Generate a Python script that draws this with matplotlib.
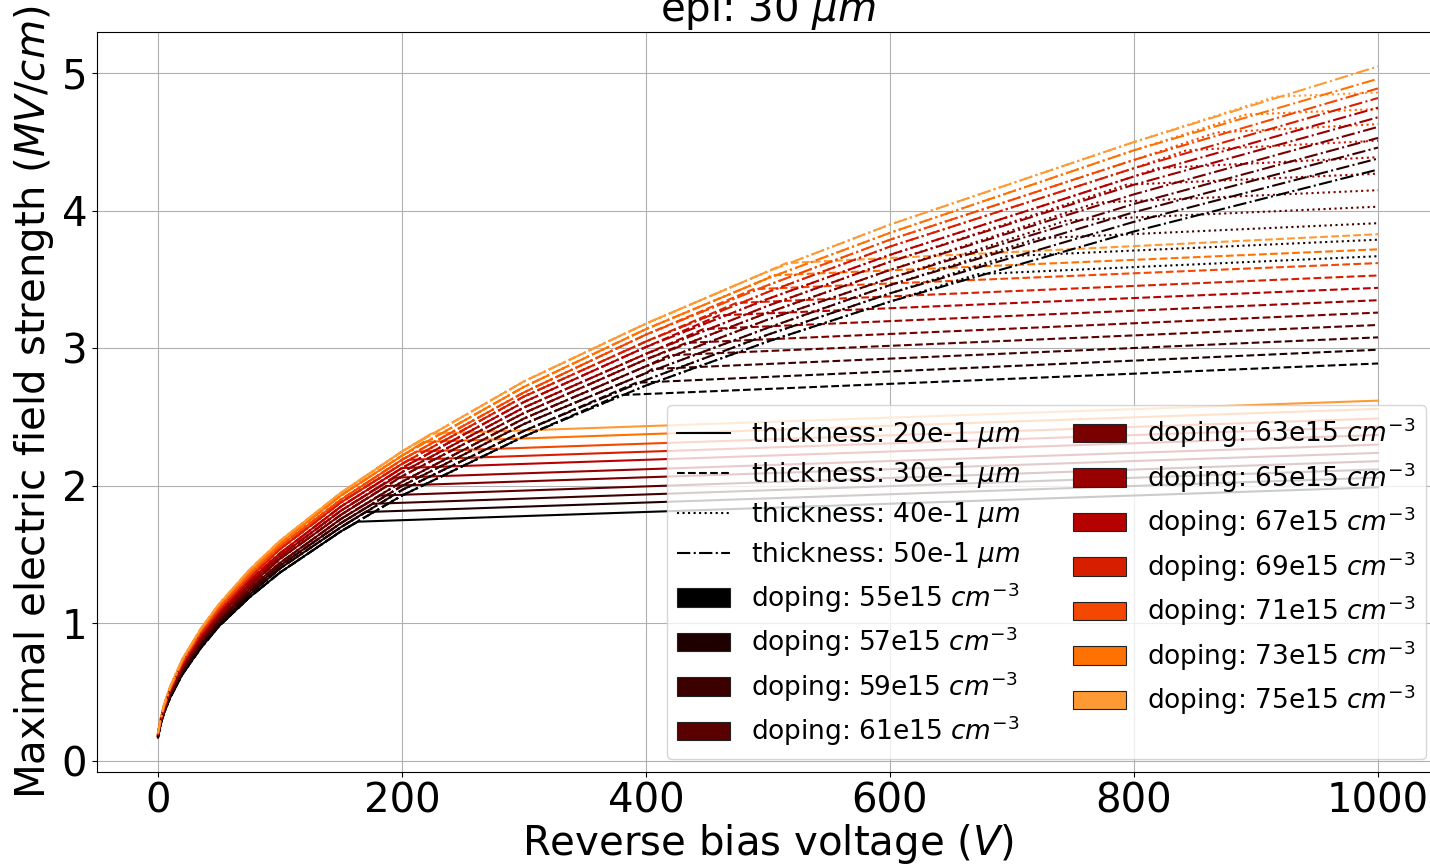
import numpy as np
import matplotlib
matplotlib.use("Agg")
import matplotlib.pyplot as plt
import matplotlib.patches as mpatches
from matplotlib.lines import Line2D

# doping in 1e15 cm^-3, layer thickness in 1e-1 um
doping = [55, 57, 59, 61, 63, 65, 67, 69, 71, 73, 75]
thickness = [20, 30, 40, 50]
styles = ['-', '--', ':', '-.']

# max field (MV/cm) before punch-through, one row per doping
v_grid = [0, 2, 5, 10, 20, 35, 50, 75, 100, 150, 200, 300, 400, 500, 600, 800, 1000]
e_rise = [
    [0.17, 0.26, 0.35, 0.46, 0.63, 0.82, 0.98, 1.19, 1.37, 1.67, 1.93, 2.36, 2.73, 3.05, 3.34, 3.85, 4.30],
    [0.18, 0.26, 0.36, 0.47, 0.64, 0.84, 0.99, 1.21, 1.40, 1.70, 1.97, 2.40, 2.77, 3.10, 3.40, 3.92, 4.38],
    [0.18, 0.27, 0.36, 0.48, 0.65, 0.85, 1.01, 1.23, 1.42, 1.73, 2.00, 2.45, 2.82, 3.15, 3.46, 3.99, 4.46],
    [0.18, 0.27, 0.37, 0.49, 0.67, 0.87, 1.03, 1.25, 1.44, 1.76, 2.03, 2.49, 2.87, 3.21, 3.51, 4.05, 4.53],
    [0.18, 0.28, 0.37, 0.50, 0.68, 0.88, 1.05, 1.27, 1.47, 1.79, 2.07, 2.53, 2.92, 3.26, 3.57, 4.12, 4.61],
    [0.19, 0.28, 0.38, 0.50, 0.69, 0.89, 1.06, 1.29, 1.49, 1.82, 2.10, 2.57, 2.96, 3.31, 3.63, 4.19, 4.68],
    [0.19, 0.28, 0.39, 0.51, 0.70, 0.91, 1.08, 1.31, 1.51, 1.85, 2.13, 2.61, 3.01, 3.36, 3.68, 4.25, 4.75],
    [0.19, 0.29, 0.39, 0.52, 0.71, 0.92, 1.09, 1.33, 1.54, 1.88, 2.16, 2.65, 3.05, 3.41, 3.74, 4.31, 4.82],
    [0.20, 0.29, 0.40, 0.53, 0.72, 0.94, 1.11, 1.35, 1.56, 1.90, 2.19, 2.68, 3.10, 3.46, 3.79, 4.37, 4.89],
    [0.20, 0.30, 0.40, 0.53, 0.73, 0.95, 1.13, 1.37, 1.58, 1.93, 2.22, 2.72, 3.14, 3.51, 3.84, 4.44, 4.96],
    [0.20, 0.30, 0.41, 0.54, 0.74, 0.96, 1.14, 1.39, 1.60, 1.95, 2.25, 2.76, 3.18, 3.56, 3.90, 4.50, 5.05],
]

# punch-through voltage, field there, and field at 1000 V (None: no punch-through)
v_pt = [
    [164, 170, 176, 182, 188, 194, 200, 206, 212, 218, 224],
    [378, 392, 405, 419, 433, 447, 460, 474, 488, 502, 515],
    [672, 696, 721, 745, 770, 794, 819, 843, 868, 892, 916],
    None,
]
e_pt = [
    [1.74, 1.81, 1.87, 1.93, 2.00, 2.06, 2.13, 2.19, 2.25, 2.32, 2.38],
    [2.66, 2.75, 2.85, 2.95, 3.04, 3.14, 3.24, 3.33, 3.43, 3.53, 3.62],
    [3.54, 3.67, 3.80, 3.93, 4.06, 4.19, 4.31, 4.44, 4.57, 4.70, 4.83],
    None,
]
e_end = [
    [1.99, 2.06, 2.12, 2.18, 2.24, 2.30, 2.37, 2.43, 2.49, 2.56, 2.62],
    [2.89, 2.99, 3.08, 3.17, 3.26, 3.35, 3.44, 3.53, 3.62, 3.72, 3.83],
    [3.67, 3.79, 3.91, 4.03, 4.15, 4.27, 4.39, 4.51, 4.63, 4.74, 4.86],
    None,
]
v_max = 1000

colors = plt.cm.gist_heat(np.linspace(0, 0.8, len(doping)))

fig = plt.figure(figsize=(14.3, 8.65), dpi=100)
ax = fig.add_axes([0.0678, 0.1075, 0.9385, 0.8555])

for t, (thk, ls) in enumerate(zip(thickness, styles)):
    for k, n in enumerate(doping):
        vg = np.array(v_grid, dtype=float)
        eg = np.array(e_rise[k])
        if v_pt[t] is None:
            v, e = vg, eg
        else:
            keep = vg < v_pt[t][k]
            v = np.concatenate([vg[keep], [v_pt[t][k], v_max]])
            e = np.concatenate([eg[keep], [e_pt[t][k], e_end[t][k]]])
        ax.plot(v, e, ls, color=colors[k], lw=1.5)

handles = [Line2D([], [], color='black', ls=ls, lw=1.5,
                  label=f'thickness: {thk}e-1 $\\mu m$')
           for thk, ls in zip(thickness, styles)]
handles += [mpatches.Patch(facecolor=c, edgecolor='#222222', lw=0.8,
                           label=f'doping: {n}e15 $cm^{{-3}}$')
            for n, c in zip(doping, colors)]
ax.legend(handles=handles, ncol=2, loc='lower right', fontsize=19,
          labelspacing=0.38)

ax.set_xlim(-50, 1050)
ax.set_ylim(-0.08, 5.30)
ax.set_xticks([0, 200, 400, 600, 800, 1000])
ax.set_yticks([0, 1, 2, 3, 4, 5])
ax.tick_params(labelsize=29)
ax.grid(True)
ax.set_xlabel('Reverse bias voltage ($V$)', fontsize=29, labelpad=0.5)
ax.set_ylabel('Maximal electric field strength ($MV/cm$)', fontsize=29)
ax.set_title('epi: 30 $\\mu m$', fontsize=29)

fig.savefig('out.png', dpi=100)
